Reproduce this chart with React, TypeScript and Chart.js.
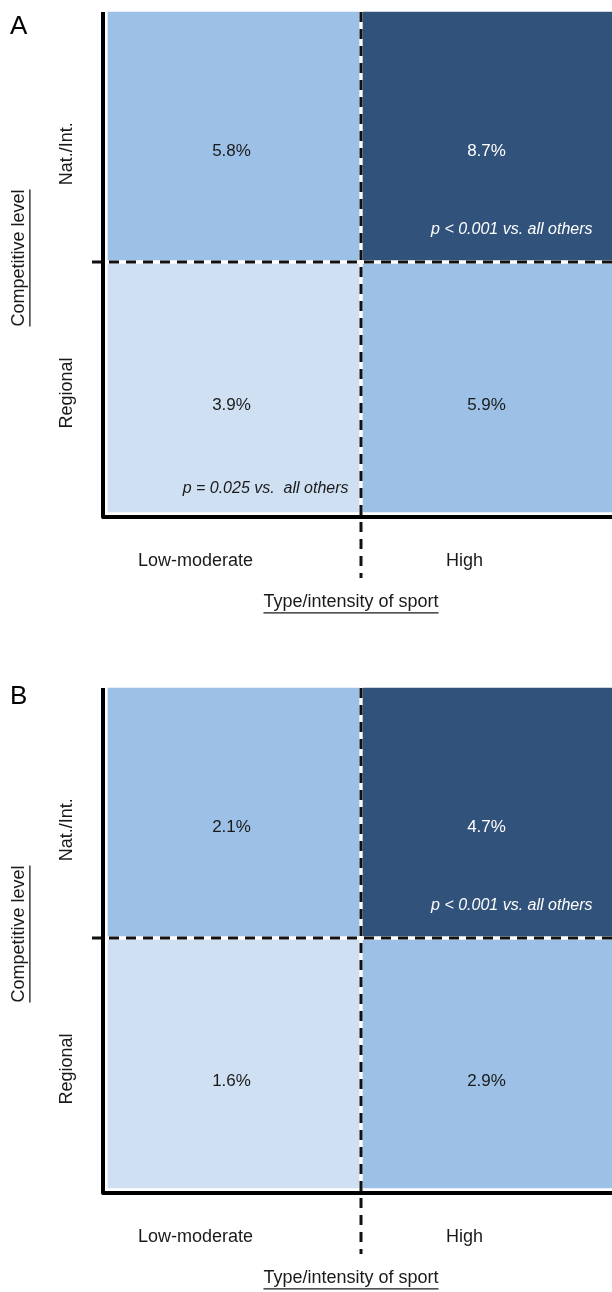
import React, { useEffect, useRef } from 'react';
import { Chart, registerables } from 'chart.js';

Chart.register(...registerables);

// ---------- data ----------
const sportTypes = ['Low-moderate', 'High'];
const levels = ['Regional', 'Nat./Int.'];

const panelARegional = [3.9, 5.9];
const panelANational = [5.8, 8.7];
const panelBRegional = [1.6, 2.9];
const panelBNational = [2.1, 4.7];

const panelANotesRegional = ['p = 0.025 vs.  all others', ''];
const panelANotesNational = ['', 'p < 0.001 vs. all others'];
const panelBNotesRegional = ['', ''];
const panelBNotesNational = ['', 'p < 0.001 vs. all others'];

const cellUnit = [1, 1]; // each cell occupies one level of the stack

const xTitle = 'Type/intensity of sport';
const yTitle = 'Competitive level';

// ---------- styles ----------
const FONT = '"Liberation Sans", Arial, Helvetica, sans-serif';
const LIGHT = '#cfe0f3';
const MID = '#9dc0e7';
const DARK = '#31527a';
const regionalColors = [LIGHT, MID];
const nationalColors = [MID, DARK];
const regionalText = ['#1a1a1a', '#1a1a1a'];
const nationalText = ['#1a1a1a', '#ffffff'];
const regionalNoteColor = ['#1a1a1a', '#1a1a1a'];
const nationalNoteColor = ['#ffffff', '#ffffff'];

const CANVAS_W = 616; // a little wider than the page; the right edge is clipped like the reference

type PanelProps = {
  letter: string;
  letterY: number;
  height: number;
  regional: number[];
  national: number[];
  notesRegional: string[];
  notesNational: string[];
};

function drawUnderlined(ctx: CanvasRenderingContext2D, text: string, x: number, y: number, size: number) {
  ctx.textAlign = 'center';
  ctx.textBaseline = 'middle';
  ctx.fillText(text, x, y);
  const w = ctx.measureText(text).width;
  ctx.beginPath();
  ctx.lineWidth = 1.3;
  ctx.strokeStyle = '#1a1a1a';
  ctx.setLineDash([]);
  const uy = y + size * 0.55 + 1;
  ctx.moveTo(x - w / 2, uy);
  ctx.lineTo(x + w / 2, uy);
  ctx.stroke();
}

function makeOverlay(p: PanelProps) {
  return {
    id: 'overlay',
    afterDatasetsDraw(chart: any) {
      const ctx: CanvasRenderingContext2D = chart.ctx;
      const ca = chart.chartArea;
      const x = chart.scales.x;
      const y = chart.scales.y;
      ctx.save();

      const rows = [
        { vals: p.regional, colors: regionalText, notes: p.notesRegional, noteColors: regionalNoteColor, vy: 0.43, ny: 0.1, label: levels[0], ly: 0.48 },
        { vals: p.national, colors: nationalText, notes: p.notesNational, noteColors: nationalNoteColor, vy: 1.44, ny: 1.13, label: levels[1], ly: 1.43 },
      ];
      const noteDx = [115, 104];
      rows.forEach((r) => {
        r.vals.forEach((v, i) => {
          ctx.font = `17px ${FONT}`;
          ctx.fillStyle = r.colors[i];
          ctx.textAlign = 'center';
          ctx.textBaseline = 'middle';
          ctx.fillText(`${v.toFixed(1)}%`, x.getPixelForValue(i) - 2, y.getPixelForValue(r.vy));
          const note = r.notes[i];
          if (note) {
            ctx.font = `italic 16px ${FONT}`;
            ctx.fillStyle = r.noteColors[i];
            ctx.textAlign = 'right';
            ctx.fillText(note, x.getPixelForValue(i) + noteDx[i], y.getPixelForValue(r.ny));
          }
        });
        ctx.save();
        ctx.font = `18px ${FONT}`;
        ctx.fillStyle = '#1a1a1a';
        ctx.translate(67, y.getPixelForValue(r.ly));
        ctx.rotate(-Math.PI / 2);
        ctx.textAlign = 'center';
        ctx.textBaseline = 'middle';
        ctx.fillText(r.label, 0, 0);
        ctx.restore();
      });

      // dashed dividers
      ctx.strokeStyle = '#111111';
      ctx.lineWidth = 3;
      ctx.setLineDash([10, 7]);
      const midX = x.getPixelForValue(0.5);
      const midY = y.getPixelForValue(1);
      ctx.beginPath();
      ctx.moveTo(midX, ca.top + 2);
      ctx.lineTo(midX, ca.bottom + 64);
      ctx.stroke();
      ctx.beginPath();
      ctx.moveTo(ca.left - 14, midY);
      ctx.lineTo(ca.right, midY);
      ctx.stroke();

      // axis lines
      ctx.setLineDash([]);
      ctx.lineWidth = 4;
      ctx.strokeStyle = '#000000';
      ctx.lineJoin = 'round';
      ctx.lineCap = 'butt';
      ctx.beginPath();
      ctx.moveTo(ca.left - 3, ca.top + 2);
      ctx.lineTo(ca.left - 3, ca.bottom + 3);
      ctx.lineTo(ca.right, ca.bottom + 3);
      ctx.stroke();

      // x category labels
      ctx.font = `18px ${FONT}`;
      ctx.fillStyle = '#1a1a1a';
      ctx.textAlign = 'center';
      ctx.textBaseline = 'middle';
      const catDx = [-38, -24];
      sportTypes.forEach((s, i) => {
        ctx.fillText(s, x.getPixelForValue(i) + catDx[i], ca.bottom + 47);
      });

      // axis titles
      drawUnderlined(ctx, xTitle, midX - 10, ca.bottom + 88, 18);
      ctx.save();
      ctx.translate(19, midY - 4);
      ctx.rotate(-Math.PI / 2);
      drawUnderlined(ctx, yTitle, 0, 0, 18);
      ctx.restore();

      // panel letter
      ctx.font = `26px ${FONT}`;
      ctx.fillStyle = '#000000';
      ctx.textAlign = 'left';
      ctx.textBaseline = 'middle';
      ctx.fillText(p.letter, 10, p.letterY);

      ctx.restore();
    },
  };
}

function Panel(p: PanelProps) {
  const ref = useRef<HTMLCanvasElement | null>(null);
  useEffect(() => {
    if (!ref.current) return;
    const chart = new Chart(ref.current, {
      type: 'bar',
      data: {
        labels: sportTypes,
        datasets: [
          {
            label: levels[0],
            data: cellUnit,
            backgroundColor: regionalColors,
            borderColor: '#ffffff',
            borderWidth: 2,
            borderSkipped: false,
            categoryPercentage: 1,
            barPercentage: 1,
          },
          {
            label: levels[1],
            data: cellUnit,
            backgroundColor: nationalColors,
            borderColor: '#ffffff',
            borderWidth: 2,
            borderSkipped: false,
            categoryPercentage: 1,
            barPercentage: 1,
          },
        ],
      },
      options: {
        responsive: false,
        animation: false,
        devicePixelRatio: 1,
        layout: { padding: { left: 106, right: 0, top: 10, bottom: p.height - 514 } },
        plugins: { legend: { display: false }, tooltip: { enabled: false } },
        scales: {
          x: { display: false, stacked: true },
          y: { display: false, stacked: true, min: 0, max: 2 },
        },
      },
      plugins: [makeOverlay(p)],
    });
    return () => chart.destroy();
  }, []);
  return (
    <div style={{ width: 612, height: p.height, overflow: 'hidden' }}>
      <canvas ref={ref} width={CANVAS_W} height={p.height} style={{ display: 'block' }} />
    </div>
  );
}

export default function App() {
  useEffect(() => {
    document.body.style.margin = '0';
    document.body.style.background = '#ffffff';
  }, []);
  return (
    <div style={{ width: 612, overflow: 'hidden', background: '#fff' }}>
      <Panel letter="A" letterY={27} height={676} regional={panelARegional} national={panelANational}
        notesRegional={panelANotesRegional} notesNational={panelANotesNational} />
      <Panel letter="B" letterY={21} height={616} regional={panelBRegional} national={panelBNational}
        notesRegional={panelBNotesRegional} notesNational={panelBNotesNational} />
    </div>
  );
}
